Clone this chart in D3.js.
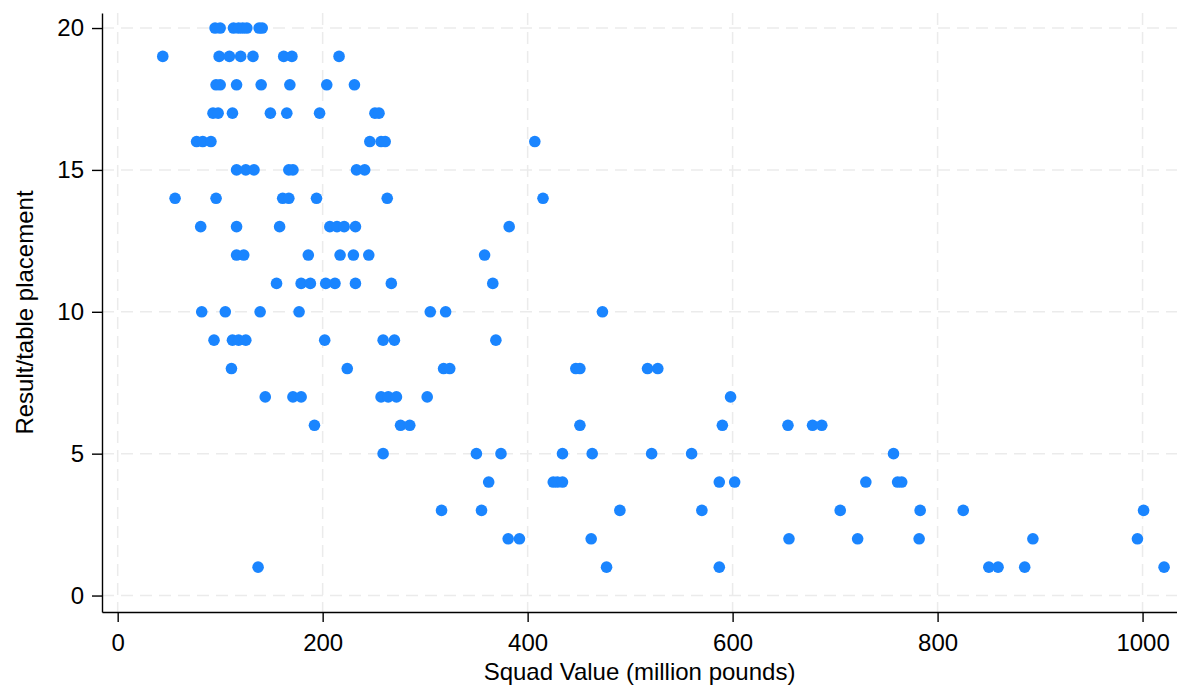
<!DOCTYPE html>
<html>
<head>
<meta charset="utf-8">
<script src="https://cdn.jsdelivr.net/npm/d3@7"></script>
<style>
  body { margin: 0; background: #fff; }
  svg { display: block; font-family: "Liberation Sans", Arial, sans-serif; }
  .axis text { font-size: 24px; fill: #000; }
  .axis path, .axis line { stroke: #000; stroke-width: 1.4; }
</style>
</head>
<body>
<div id="scatter"></div>
<script>
const svgWidth = 1177;
const svgHeight = 687;

// tick values
const xTicks = [0, 200, 400, 600, 800, 1000];
const yTicks = [0, 5, 10, 15, 20];

// squad value (million pounds) and final table placement, one entry per team-season
const squadValue = [
  95, 100, 113, 118, 122, 126, 138, 141,          // 20
  44, 99, 109, 120, 132, 162, 170, 216,           // 19
  96, 100, 116, 140, 168, 204, 231,               // 18
  93, 98, 112, 149, 165, 197, 251, 255,           // 17
  77, 83, 91, 246, 257, 261, 407,                 // 16
  116, 125, 133, 167, 171, 233, 241,              // 15
  56, 96, 161, 167, 194, 263, 415,                // 14
  81, 116, 158, 207, 214, 221, 232, 382,          // 13
  116, 123, 186, 217, 230, 245, 358,              // 12
  155, 179, 188, 203, 212, 232, 267, 366,         // 11
  82, 105, 139, 177, 305, 320, 473,               // 10
  94, 112, 118, 125, 202, 259, 270, 369,          // 9
  111, 224, 318, 324, 447, 451, 517, 527,         // 8
  144, 171, 179, 257, 264, 272, 302, 598,         // 7
  192, 276, 285, 451, 590, 654, 678, 687,         // 6
  259, 350, 374, 434, 463, 521, 560, 757,         // 5
  362, 425, 429, 434, 587, 602, 730, 761, 765,    // 4
  316, 355, 490, 570, 705, 783, 825, 1001,        // 3
  381, 392, 462, 655, 722, 782, 893, 995,         // 2
  137, 477, 587, 850, 859, 885, 1021              // 1
];
const placement = [
  20, 20, 20, 20, 20, 20, 20, 20,
  19, 19, 19, 19, 19, 19, 19, 19,
  18, 18, 18, 18, 18, 18, 18,
  17, 17, 17, 17, 17, 17, 17, 17,
  16, 16, 16, 16, 16, 16, 16,
  15, 15, 15, 15, 15, 15, 15,
  14, 14, 14, 14, 14, 14, 14,
  13, 13, 13, 13, 13, 13, 13, 13,
  12, 12, 12, 12, 12, 12, 12,
  11, 11, 11, 11, 11, 11, 11, 11,
  10, 10, 10, 10, 10, 10, 10,
  9, 9, 9, 9, 9, 9, 9, 9,
  8, 8, 8, 8, 8, 8, 8, 8,
  7, 7, 7, 7, 7, 7, 7, 7,
  6, 6, 6, 6, 6, 6, 6, 6,
  5, 5, 5, 5, 5, 5, 5, 5,
  4, 4, 4, 4, 4, 4, 4, 4, 4,
  3, 3, 3, 3, 3, 3, 3, 3,
  2, 2, 2, 2, 2, 2, 2, 2,
  1, 1, 1, 1, 1, 1, 1
];

const margin = { top: 13, right: 0, bottom: 75, left: 102 };
const width = svgWidth - margin.left - margin.right;
const height = svgHeight - margin.top - margin.bottom;

const data = squadValue.map((v, i) => ({ value: v, place: placement[i] }));

const svg = d3.select("#scatter")
  .append("svg")
  .attr("width", svgWidth)
  .attr("height", svgHeight);

const chartGroup = svg.append("g")
  .attr("transform", `translate(${margin.left}, ${margin.top})`);

const xScale = d3.scaleLinear()
  .domain([-15.3, 1033.6])
  .range([0, width]);

const yScale = d3.scaleLinear()
  .domain([-0.58, 20.53])
  .range([height, 0]);

// dashed grid
chartGroup.append("g")
  .selectAll("line")
  .data(yTicks)
  .enter()
  .append("line")
  .attr("x1", 0)
  .attr("x2", width)
  .attr("y1", d => yScale(d))
  .attr("y2", d => yScale(d))
  .attr("stroke", "#ebebeb")
  .attr("stroke-width", 1.5)
  .attr("stroke-dasharray", "12,7");

chartGroup.append("g")
  .selectAll("line")
  .data(xTicks)
  .enter()
  .append("line")
  .attr("x1", d => xScale(d))
  .attr("x2", d => xScale(d))
  .attr("y1", 0)
  .attr("y2", height)
  .attr("stroke", "#ebebeb")
  .attr("stroke-width", 1.5)
  .attr("stroke-dasharray", "12,7");

// axes
chartGroup.append("g")
  .attr("class", "axis")
  .attr("transform", `translate(0, ${height})`)
  .call(d3.axisBottom(xScale).tickValues(xTicks).tickFormat(d3.format("d"))
    .tickSize(10).tickSizeOuter(0).tickPadding(12));

chartGroup.append("g")
  .attr("class", "axis")
  .call(d3.axisLeft(yScale).tickValues(yTicks).tickFormat(d3.format("d"))
    .tickSize(10).tickSizeOuter(0).tickPadding(8));

// points
chartGroup.append("g")
  .selectAll("circle")
  .data(data)
  .enter()
  .append("circle")
  .attr("cx", d => xScale(d.value))
  .attr("cy", d => yScale(d.place))
  .attr("r", 5.8)
  .attr("fill", "#1a85ff");

// axis titles
chartGroup.append("text")
  .attr("x", width / 2)
  .attr("y", height + 68)
  .attr("text-anchor", "middle")
  .attr("font-size", "24px")
  .attr("fill", "#000")
  .text("Squad Value (million pounds)");

chartGroup.append("text")
  .attr("transform", "rotate(-90)")
  .attr("x", -height / 2)
  .attr("y", -margin.left + 33)
  .attr("text-anchor", "middle")
  .attr("font-size", "24px")
  .attr("fill", "#000")
  .text("Result/table placement");
</script>
</body>
</html>
